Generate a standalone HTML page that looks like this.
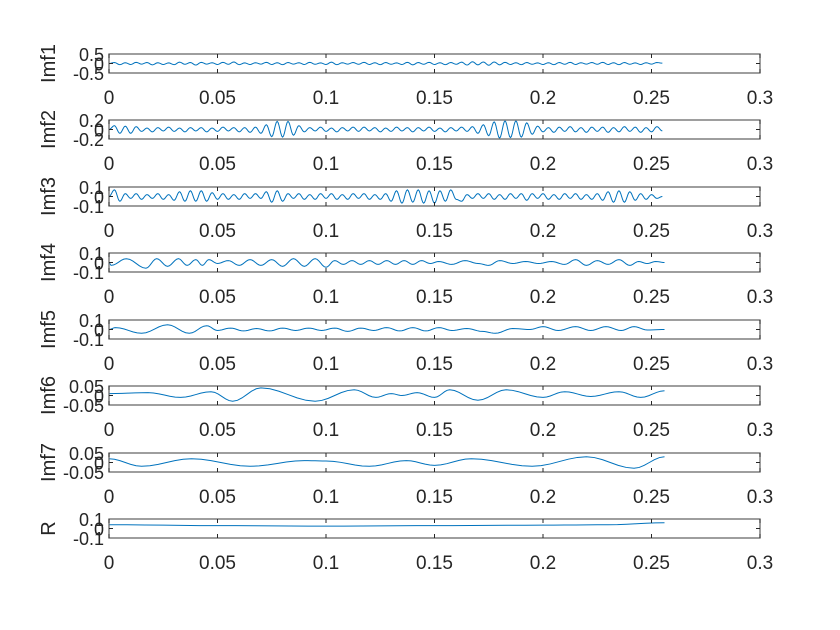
<!DOCTYPE html>
<html><head><meta charset="utf-8"><style>
html,body{margin:0;padding:0;background:#fff;}
svg{display:block;font-family:"Liberation Sans",Arial,sans-serif;}
</style></head><body>
<svg id="chart" width="840" height="630" viewBox="0 0 840 630" xmlns="http://www.w3.org/2000/svg"></svg>
<script>
// ---- data ----
const xTicks = [0, 0.05, 0.1, 0.15, 0.2, 0.25, 0.3];
const xTickLabels = ["0", "0.05", "0.1", "0.15", "0.2", "0.25", "0.3"];
const panelNames = ["Imf1","Imf2","Imf3","Imf4","Imf5","Imf6","Imf7","R"];
const yLimits = [0.5, 0.2, 0.1, 0.1, 0.1, 0.05, 0.05, 0.1];
const yTopLabels = ["0.5","0.2","0.1","0.1","0.1","0.05","0.05","0.1"];
const yBotLabels = ["-0.5","-0.2","-0.1","-0.1","-0.1","-0.05","-0.05","-0.1"];
const uniformStep = 0.0025;
const imf1 = [0,.05,-.06,.04,-.05,.06,-.03,.05,-.07,.04,-.05,.03,-.06,.07,-.04,.05,-.08,.06,-.03,.04,
 -.05,.06,-.04,.08,-.06,.03,-.05,.04,-.03,.06, -.05,.04,-.06,.05,-.03,.04,-.05,.06,-.04,.03,
 -.05,.07,-.06,.04,-.03,.05,-.04,.06,-.05,.04, -.06,.05,-.04,.03,-.05,.06,-.07,.05,-.04,.06,
 -.05,.04,-.06,.05,-.04,.07,-.08,.09,-.07,.08, -.09,.08,-.07,.06,-.05,.04,-.06,.05,-.04,.03,
 -.05,.04,-.06,.05,-.04,.06,-.05,.04,-.03,.05, -.04,.06,-.05,.04,-.06,.05,-.04,.03,-.05,.04,
 -.03,.05,.02];
const imf2 = [0,.08,-.08,.07,-.08,.06,
 -.04,.03,-.05,.04,-.03,.05,-.04,.03,-.05,.04,-.03,.04,-.05,.03,-.04,.05,-.03,.04,-.05,.04,-.06,.05,-.08,.1,
 -.15,.17,-.16,.17,-.12,.08,
 -.05,.04,-.03,.05,-.04,.03,-.05,.04,-.03,.05,-.04,.05,-.03,.04,-.05,.03,-.04,.05,-.03,.04,-.05,.04,-.03,.05,-.04,.03,-.05,.04,-.03,.05,-.04,.06,-.08,.1,
 -.13,.16,-.18,.18,-.17,.18,-.16,.14,-.1,.07,
 -.05,.04,-.06,.05,-.04,.06,-.05,.04,-.06,.05,-.04,.05,-.06,.04,-.05,.06,-.04,.05,-.06,.04,-.05,.06,-.03];
const imf3 = [0,.07,-.05,.03,-.02,.03,-.03,.02,-.02,.03,-.03,.02,
 -.04,.05,-.05,.06,-.05,.06,-.05,.04,-.03,.03,
 -.03,.02,-.03,.03,-.02,.03,-.02,.05,-.06,.06,-.05,.03,-.02,.03,
 -.03,.02,-.03,.03,-.02,.03,-.03,.02,-.03,.03,-.02,.03,-.03,.02,-.03,.03,
 -.05,.06,-.07,.07,-.06,.07,-.07,.06,-.07,.06,-.05,.07,-.03,-.05,.02,
 -.02,.03,-.02,.03,-.03,.02,-.03,.03,-.02,.03,-.04,.03,-.02,.03,-.03,.02,-.03,.03,-.02,.03,
 -.03,.02,-.03,.03,-.04,.05,-.06,.06,-.06,.05,-.04,.03,-.03,.02,-.02,0];
const imf4T = [0,.001,.008,.017,.022,.027,.032,.036,.04,.043,.046,.05,.055,.06,.065,.07,.075,.08,.085,.09,.095,.1,.104,.108,.112,.116,.12,.124,.128,.132,.136,.14,.144,.148,.152,.158,.164,.17,.175,.18,.186,.192,.198,.204,.21,.215,.22,.225,.23,.235,.24,.244,.248,.252,.256];
const imf4V = [0,-.03,.04,-.06,.04,-.04,.04,-.03,.03,-.03,.03,-.01,.02,-.03,.03,-.03,.03,-.04,.04,-.04,.04,-.05,.02,-.02,.02,-.02,.02,-.02,.02,-.02,.02,-.02,.02,-.01,.01,-.02,.02,-.01,-.03,.02,-.01,.01,-.01,.01,-.02,.03,-.03,.02,-.02,.03,-.03,.01,-.01,.01,0];
const imf5T = [0,.003,.015,.027,.037,.045,.05,.056,.062,.068,.074,.08,.086,.092,.098,.104,.11,.116,.122,.128,.134,.14,.146,.152,.158,.165,.172,.178,.186,.194,.2,.207,.215,.222,.229,.236,.242,.248,.256];
const imf5V = [0,.02,-.04,.05,-.04,.04,-.01,.015,-.015,.01,-.015,.015,-.01,.015,-.01,.015,-.02,.015,-.01,.02,-.015,.02,-.015,.02,-.01,.01,-.02,-.04,.01,0,.03,-.01,.03,-.01,.03,-.01,.03,-.005,0];
const imf6T = [0,.018,.033,.047,.057,.07,.095,.113,.123,.13,.135,.142,.15,.157,.17,.183,.2,.21,.222,.235,.245,.256];
const imf6V = [.01,.015,-.01,.02,-.03,.04,-.03,.03,-.01,.01,0,.015,-.01,.03,-.025,.03,-.01,.02,-.005,.02,-.01,.025];
const imf7T = [0,.015,.038,.065,.09,.1,.12,.137,.15,.167,.195,.22,.242,.256];
const imf7V = [.02,-.02,.02,-.02,.01,.008,-.02,.01,-.015,.02,-.02,.03,-.03,.03];
const resT = [0,.05,.1,.15,.2,.23,.256];
const resV = [.04,.03,.025,.03,.035,.04,.06];

// ---- layout ----
const svg = document.getElementById('chart');
const NS = 'http://www.w3.org/2000/svg';
const X0 = 109, X1 = 760, XMAX = 0.3;
const tops = [54,120,187,253,320,386,453,519];
const H = 19;
function xs(t){ return X0 + t / XMAX * (X1 - X0); }
function mk(tag, attrs, parent){ const e = document.createElementNS(NS, tag); for (const k in attrs) e.setAttribute(k, attrs[k]); (parent||svg).appendChild(e); return e; }

function uniformSeries(vals){ return { t: vals.map((_, i) => i * uniformStep), v: vals }; }
const series = [
  uniformSeries(imf1), uniformSeries(imf2), uniformSeries(imf3),
  { t: imf4T, v: imf4V }, { t: imf5T, v: imf5V }, { t: imf6T, v: imf6V },
  { t: imf7T, v: imf7V }, { t: resT, v: resV }
];

series.forEach((s, p) => {
  const top = tops[p], bot = top + H, mid = top + H / 2, lim = yLimits[p];
  const ys = v => mid - v / lim * (H / 2);
  const g = mk('g', {});
  
  
  let d = 'M' + xs(s.t[0]).toFixed(2) + ' ' + ys(s.v[0]).toFixed(2);
  for (let i = 1; i < s.t.length; i++) {
    const t0 = s.t[i-1], t1 = s.t[i], v0 = s.v[i-1], v1 = s.v[i];
    const n = 6;
    for (let k = 1; k <= n; k++) {
      const f = k / n, w = (1 - Math.cos(Math.PI * f)) / 2;
      d += 'L' + xs(t0 + (t1 - t0) * f).toFixed(2) + ' ' + ys(v0 + (v1 - v0) * w).toFixed(2);
    }
  }
  const line = mk('path', { d: d, fill: 'none', stroke: '#0072BD', 'stroke-width': 1 }, g);
  
  
  const box = mk('rect', { x: X0, y: top, width: X1 - X0, height: H, fill: 'none', stroke: '#6a6a6a', 'stroke-width': 1.3 }, g);
  
  
  xTicks.forEach((tk, i) => {
    const x = xs(tk);
    mk('line', { x1: x, y1: bot, x2: x, y2: bot - 4, stroke: '#262626', 'stroke-width': 1 }, g);
    mk('line', { x1: x, y1: top, x2: x, y2: top + 4, stroke: '#262626', 'stroke-width': 1 }, g);
    const tl = mk('text', { x: x, y: bot + 31, 'text-anchor': 'middle', 'font-size': 19, fill: '#262626' }, g);
    tl.textContent = xTickLabels[i];
    
    
  });
  mk('line', { x1: X0, y1: mid, x2: X0 + 4, y2: mid, stroke: '#262626' }, g);
  mk('line', { x1: X1, y1: mid, x2: X1 - 4, y2: mid, stroke: '#262626' }, g);
  const labs = [[yTopLabels[p], top + 7], ['0', mid + 7], [yBotLabels[p], bot + 7]];
  labs.forEach(([txt, y]) => {
    const yl = mk('text', { x: 104, y: y, 'text-anchor': 'end', 'font-size': 18, fill: '#262626' }, g);
    yl.textContent = txt;
    
    
  });
  const yt = mk('text', { x: 0, y: 0, 'text-anchor': 'middle', 'font-size': 20, fill: '#262626', transform: 'translate(55,' + mid + ') rotate(-90)' }, g);
  yt.textContent = panelNames[p];
  
  
});
</script>
</body></html>
